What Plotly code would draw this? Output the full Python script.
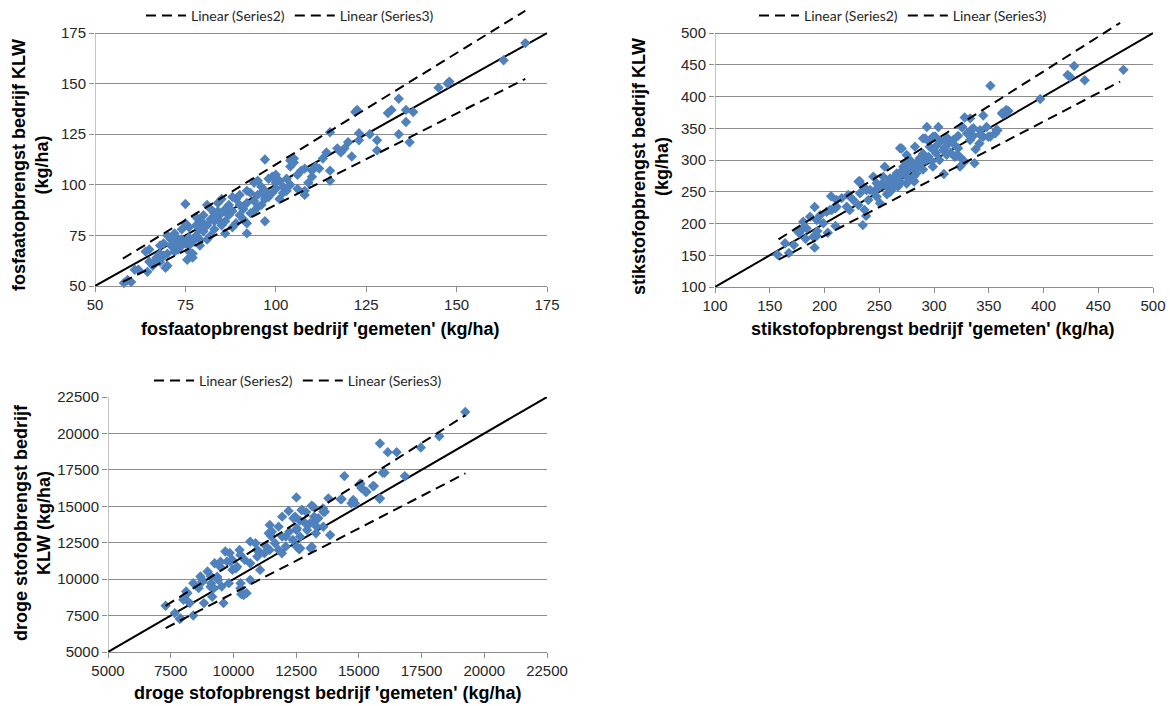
import plotly.graph_objects as go

W, H = 1170, 706

# ---------------- data: chart 1 (fosfaat) ----------------
fos_pts = [(169,170),(163,161.5),(148,151),(147.5,150),(145,148),(138,136),(136,137),(136,131),(134,142.5),(134,125),
 (137,121),(132,137),(131,135.5),(128,122),(128,117),(126,125),(123,125.5),(123,122),(122.5,137),(122,136),(121,114),
 (120,121),(119,118),(118,116),(117,118),(115,126),(115,107),(115,102),(114,116),(113,113),(112,108),(111,109),(110,107),
 (110,104),(109,101),(108,95),(108,97),(108,108),(107,107),(106,105),(105,113),(105,111),(104,109),(104,112),(103,103),
 (103,97),(102,99),(101,93),(101,102),(100,98),(99,104),(99,96),(98,103),(97,112.5),(97,93),(96,99),(97,82),(96,90),
 (95,102),(95,95),(94,92),(94,87),(93,96),(92,97),(92,91),(92,81),(92,76),(91,88),(90,90),(90,85),(89,93),(88,94),(88,87),
 (88,79),(87,85),(86,88),(86,82),(85,93),(85,86),(85,80),(84,87),(84,83),(83,86),(83,78),(82,83),(82,75),(81,90),(81,80),
 (81,73),(80,85),(80,77),(79,82),(79,78),(78,80),(78,75),(77,72),(77,66),(77,64),(76,79),(76,74),(76,70),(75.5,63),
 (75,90.5),(75,81),(75,71),(74,78),(74,70),(73,68),(72,76),(72,67),(71,73),(70,75),(70,66),(70,60),(69.5,59),(69,71),
 (69,65),(68,70),(68,62),(67,64),(66,61),(65,68),(65,62),(64.5,57),(64,67),(62,58),(61,58),(60,52),(58,51.5),(59,53),
 (66,60),(68,66),(71,70),(73,73),(79,73),(83,82),(86,76),(87,90),(89,81),(90,95),(91,83),(93,86),(94,101),(95,89),
 (96,96),(98,94),(100,101),(102,96),(104,100),(106,98),(100,105),(97,97),(84,91),(82,88),(78,84),(80,81),(74,73),
 (72,70),(76,67),(79,70)]
fos_x = [p[0] for p in fos_pts]
fos_y = [p[1] for p in fos_pts]
fos_s2_x, fos_s2_y = [57.7, 169], [63.5, 186]
fos_s3_x, fos_s3_y = [57.7, 169], [52, 152.3]
fos_ticks = [50, 75, 100, 125, 150, 175]

# ---------------- data: chart 2 (stikstof) ----------------
stik_pts = [(473,442),(428,448),(424,431),(422,434),(437.6,425.7),(397,396),(351.5,417),(368,377),(363,372),(366,375),
 (358,347),(356,342),(345,370),(333,365.5),(326,352),(351.5,337),(341.5,326),(336,350),(338,317),(328,297.5),(321,308),
 (309,278),(304,352),(293.5,352),(301,337),(292,334),(270.5,318),(282,266),(267,258),(257,246),(235,197.5),(236.5,221.5),
 (238,212),(232,267),(206,243),(205,221.5),(210,224),(191,226),(191,162),(210,196),(203,185.5),(193,180.5),(193.5,188),
 (182.7,176),(179,190),(177,185),(172,166),(164,169),(167.5,153.5),(157,151),
 (269,318.4),(282.6,321),(275,308),(255,289.5),(244.6,273.7),(231,266),(238.5,252.7),(221.7,245),(215.7,240),
 (206.6,221.3),(192.9,205.5),(198.9,200.3),(180.6,202.8),(176,187),(189.8,179.2),(223,221),(231,229),(240,237),
 (247.7,242),(250.7,231.8),(256.8,258),(262.8,263),(266,279),(259.8,271),(272,289.5),(278,300),(284,294.8),(281,268.5),
 (275,263),(284,279),(211,226.4),(211,237),(202,218.6),(196,213),(183.7,192.4),(186.8,210.7),(226.3,237),(232.4,247.6),
 (241.6,252.7),(250.7,258),(253.7,273.7),(247.7,263.3),(235.5,258),(220.3,226.4),
 (366,379),(362,373.6),(328,367),(357,347.2),(349.6,336.7),(342,347),(334.4,348.3),(325,352.4),(290,334),(299,336.7),
 (319,305),(322,318.4),(313,326),(333,331.5),(345,336.7),(308.5,315.7),(317.6,331.5),(302,310.5),(296,321),(287,302.7),
 (299,289.5),(293,300),(275,294.8),(272,284),(311.6,308),(323.7,289.5),(337,294.8),(323.7,305),
 (245,250),(248,255),(252,262),(258,265),(262,270),(265,268),(268,275),(270,282),(273,278),(277,285),(280,288),(285,290),
 (288,295),(290,285),(295,305),(298,298),(300,315),(305,300),(310,320),(315,312),(260,250),(264,258),(270,265),(276,272),
 (282,275),(290,310),(295,330),(302,322),(306,330),(312,335),(318,325),(322,338),(330,342),(336,338),(342,340),(348,352)]
stik_x = [p[0] for p in stik_pts]
stik_y = [p[1] for p in stik_pts]
stik_s2_x, stik_s2_y = [158, 470], [175, 516]
stik_s3_x, stik_s3_y = [158, 470], [143, 423.5]
stik_ticks = [100, 150, 200, 250, 300, 350, 400, 450, 500]

# ---------------- data: chart 3 (droge stof) ----------------
ds_pts = [(19241,21476),(18206,19810),(17470,19034),(16832,17072),(15840,19308),(16152,18715),(16506,18715),(15954,17300),
 (16024,17300),(15840,15543),(15600,16387),(15273,16000),(15060,16570),(15100,16250),(14423,17072),(14281,15474),
 (14777,15430),(14706,15200),(13785,15543),(13643,14630),(13572,14858),(13856,13033),(13119,15041),(12722,14744),
 (12900,14600),(12510,15611),(12199,14676),(12652,14014),(12623,12051),(13076,12120),(13218,13945),(13289,13147),
 (12935,13375),(11943,14288),(11801,13603),(11447,13717),(11405,13147),(11518,12918),(10668,12576),(10881,12462),
 (11022,11892),(11235,11777),(10243,12006),(9676,11892),(9850,11800),(9747,11207),(9251,11093),(8968,10523),(9110,10180),
 (9960,10636),(10101,10750),(10285,9724),(10668,9952),(10526,9040),(11064,10636),(10455,11321),(8755,9952),(8400,9724),
 (8613,9382),(8117,9153),(8046,8697),(8259,8355),(8004,8583),(7296,8172),(7664,7670),(7863,7259),(8400,7510),(8826,8355),
 (9605,8355),(10314,8971),(9223,9382),(9393,9952),(11447,12006),(11943,12918),(12227,13261),(11801,12006),(12085,12234),
 (12369,12690),(9960,11321),(9463,10864),(8684,10180),(9110,9724),(9534,9496),(9818,9724),(10668,11093),(10952,11549),
 (11306,12234),(11660,12462),(12085,12918),(12510,13375),(12864,13831),(13218,14288),
 (12460,14286),(11535,13256),(9484,11197),(9881,11197),(8758,9825),(8163,9027),(10409,8912),(10278,9372),(7897,7310),
 (11932,11774),(12527,12231),(10940,12000),(10278,11657),(10146,10854),(9353,10168),(9087,9482),(9154,8795),
 (15039,16461),(15306,16002),(15566,16393),(15833,15522),(14313,15500),(14841,15205),(13186,14972),(13583,14629),
 (13123,12227),(12658,12117),(12393,14176),(12725,14745),(13321,13599),(13583,13599),(13056,13833),(13384,14176),
 (12528,13489),(12658,12917)]
ds_x = [p[0] for p in ds_pts]
ds_y = [p[1] for p in ds_pts]
ds_s2_x, ds_s2_y = [7300, 19250], [8170, 21250]
ds_s3_x, ds_s3_y = [7300, 19250], [6640, 17260]
ds_ticks = [5000, 7500, 10000, 12500, 15000, 17500, 20000, 22500]

# ---------------- text ----------------
legend_names = ["Linear (Series2)", "Linear (Series3)"]
xtitles = ["fosfaatopbrengst bedrijf 'gemeten' (kg/ha)",
           "stikstofopbrengst bedrijf 'gemeten' (kg/ha)",
           "droge stofopbrengst bedrijf 'gemeten' (kg/ha)"]
ytitles = ["fosfaatopbrengst bedrijf KLW<br>(kg/ha)",
           "stikstofopbrengst bedrijf KLW<br>(kg/ha)",
           "droge stofopbrengst bedrijf<br>KLW (kg/ha)"]

# ---------------- style / layout (pixels) ----------------
BLUE = "#4F81BD"
GRID = "#8C8C8C"
TICKFONT = dict(family="Liberation Sans, Arial", size=15, color="#262626")
TITLEFONT = dict(family="Liberation Sans, Arial", size=18, color="#000000")
LEGFONT = dict(family="Lato", size=14, color="#262626")

panels = [
    dict(xs=fos_x, ys=fos_y, s2=(fos_s2_x, fos_s2_y), s3=(fos_s3_x, fos_s3_y), ticks=fos_ticks,
         L=95, R=547, T=33, B=286, ytop=190, leg=(290, 16), xt=(320, 329), yt=(31, 165)),
    dict(xs=stik_x, ys=stik_y, s2=(stik_s2_x, stik_s2_y), s3=(stik_s3_x, stik_s3_y), ticks=stik_ticks,
         L=715, R=1153, T=33, B=287, ytop=530, leg=(903, 16), xt=(933, 329), yt=(650, 167)),
    dict(xs=ds_x, ys=ds_y, s2=(ds_s2_x, ds_s2_y), s3=(ds_s3_x, ds_s3_y), ticks=ds_ticks,
         L=108, R=547, T=397, B=652, ytop=22500, leg=(298, 381), xt=(328, 693), yt=(32, 523)),
]

fig = go.Figure()
layout = dict(width=W, height=H, margin=dict(l=0, r=0, t=0, b=0, autoexpand=False),
              paper_bgcolor="white", plot_bgcolor="white", showlegend=True,
              font=dict(family="Liberation Sans, Arial"))
annotations = []
shapes = []

for i, p in enumerate(panels):
    n = "" if i == 0 else str(i + 1)
    xa, ya = "x" + n, "y" + n
    legname = "legend" + n
    t = p["ticks"]
    tt = [str(v) for v in t]
    lo, hi = t[0], t[-1]
    ppu = (p["B"] - p["T"]) / (hi - lo)
    top_px = p["T"] - (p["ytop"] - hi) * ppu

    fig.add_trace(go.Scatter(x=[lo, hi], y=[lo, hi], mode="lines", xaxis=xa, yaxis=ya,
                             line=dict(color="black", width=2), showlegend=False, hoverinfo="skip"))
    fig.add_trace(go.Scatter(x=p["xs"], y=p["ys"], mode="markers", xaxis=xa, yaxis=ya,
                             marker=dict(symbol="diamond", size=8, color=BLUE, line=dict(width=0)),
                             showlegend=False, cliponaxis=False))
    for name, (sx, sy) in zip(legend_names, [p["s2"], p["s3"]]):
        fig.add_trace(go.Scatter(x=sx, y=sy, mode="lines", xaxis=xa, yaxis=ya, name=name,
                                 legend=legname,
                                 line=dict(color="black", width=2, dash="10px,6px")))

    layout["xaxis" + n] = dict(domain=[p["L"] / W, p["R"] / W], range=[lo, hi], anchor=ya,
                               tickvals=t, ticktext=tt, ticks="outside", ticklen=5, tickcolor=GRID,
                               showline=True, linecolor=GRID, linewidth=1, showgrid=False,
                               zeroline=False, tickfont=TICKFONT, fixedrange=True, automargin=False)
    layout["yaxis" + n] = dict(domain=[1 - p["B"] / H, 1 - top_px / H], range=[lo, p["ytop"]], anchor=xa,
                               tickvals=t, ticktext=tt, ticks="outside", ticklen=5, tickcolor=GRID,
                               showline=False, showgrid=True, gridcolor=GRID, gridwidth=1,
                               zeroline=False, tickfont=TICKFONT, fixedrange=True, automargin=False)
    shapes.append(dict(type="line", xref=xa, yref=ya, x0=lo, x1=lo, y0=lo, y1=hi,
                       line=dict(color=GRID, width=1), layer="below"))

    layout[legname] = dict(orientation="h", x=p["leg"][0] / W, y=1 - p["leg"][1] / H,
                           xanchor="center", yanchor="middle", font=LEGFONT,
                           bgcolor="rgba(0,0,0,0)", itemwidth=40, tracegroupgap=0)

    annotations.append(dict(text="<b>%s</b>" % xtitles[i], xref="paper", yref="paper",
                            x=p["xt"][0] / W, y=1 - p["xt"][1] / H, showarrow=False,
                            xanchor="center", yanchor="middle", font=TITLEFONT))
    annotations.append(dict(text="<b>%s</b>" % ytitles[i].replace("<br>", "</b><br><b>"),
                            xref="paper", yref="paper",
                            x=p["yt"][0] / W, y=1 - p["yt"][1] / H, showarrow=False, textangle=-90,
                            xanchor="center", yanchor="middle", font=TITLEFONT))

layout["annotations"] = annotations
layout["shapes"] = shapes
fig.update_layout(**layout)
fig.write_html("out.html")
